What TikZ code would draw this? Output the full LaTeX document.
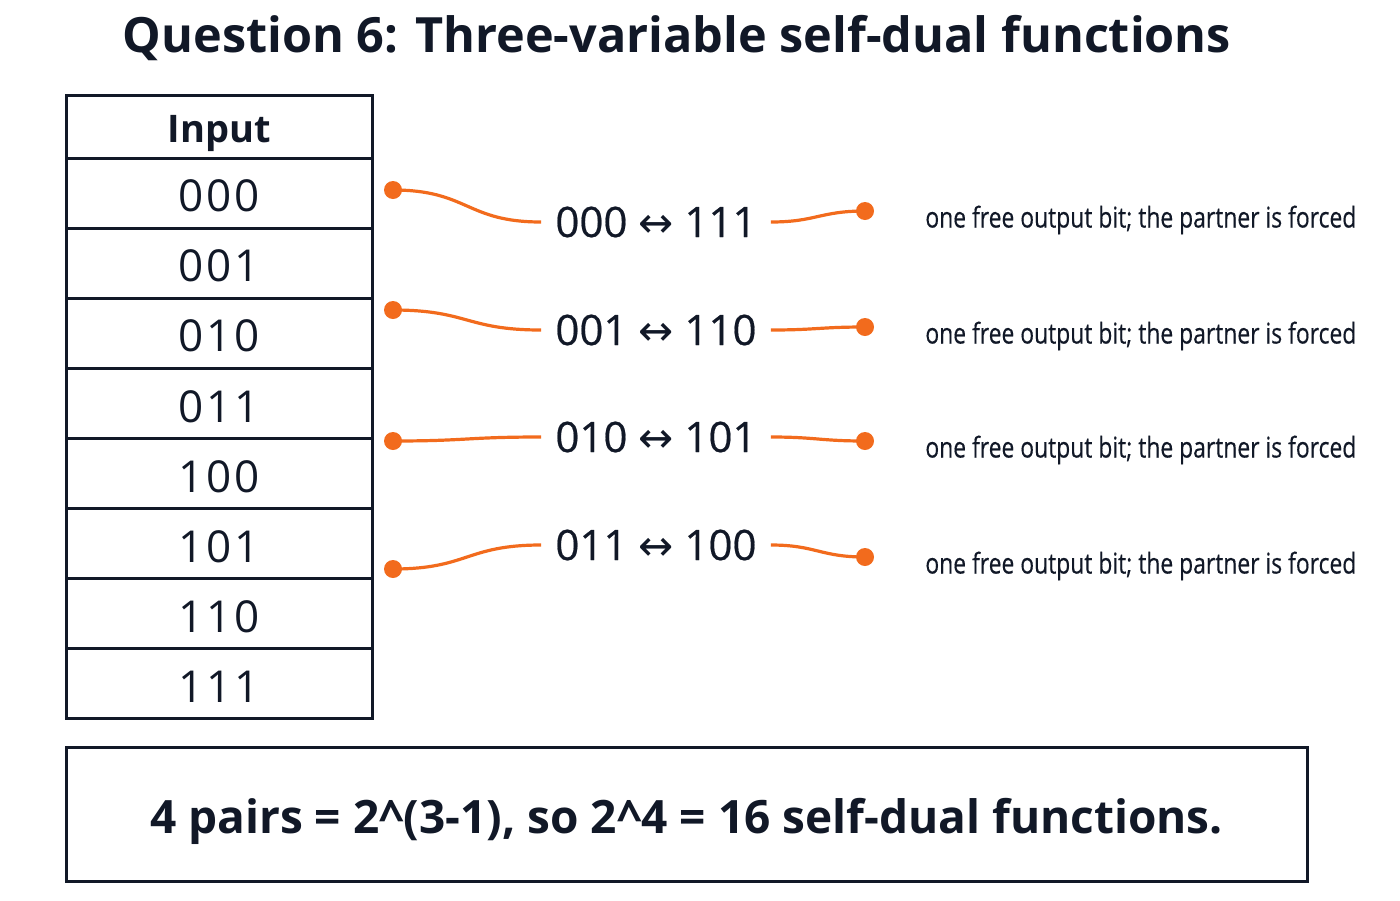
\documentclass[tikz,border=0pt]{standalone}
\usepackage{fontspec}
\setmainfont{Open Sans}
\newfontfamily\arrowfont{DejaVu Sans}
\newfontfamily\narrowfont[FakeStretch=0.8, FakeBold=0.4]{Open Sans}
\usetikzlibrary{positioning}
\definecolor{ink}{HTML}{111827}
\definecolor{flame}{HTML}{F26B1D}

\begin{document}
\begin{tikzpicture}[x=0.5pt, y=-0.5pt,
    cell/.style={draw=ink, line width=1.5pt, minimum width=153pt, minimum height=35pt,
                 outer sep=0pt, inner sep=0pt, text height=18.7pt, text depth=0pt, text=ink,
                 font=\fontsize{22}{26}\selectfont\addfontfeature{LetterSpace=7}},
    dot/.style={circle, fill=flame, inner sep=0pt, minimum size=9pt},
    pair/.style={anchor=west, inner xsep=7pt, text=ink, font=\fontsize{21}{25}\selectfont\addfontfeature{FakeBold=0.5}},
    note/.style={anchor=west, inner sep=0pt, text=ink, font=\narrowfont\fontsize{14.3}{17}\selectfont},
    link/.style={draw=flame, line width=1.6pt}
]
\useasboundingbox (0,0) rectangle (1400,900);

\node[text=ink, font=\fontsize{24.3}{28}\selectfont\bfseries] (title) at (677,38)
    {Question 6: Three-variable self-dual functions};

\node[cell, minimum height=31.5pt, text height=16.2pt, anchor=north west,
      font=\fontsize{19}{22}\selectfont\bfseries] (head) at (66,95) {Input};
\foreach \b [count=\i] in {000,001,010,011,100,101,110,111}{
    \node[cell] (row\i) at (219,{158+70.1*\i-35.05}) {\b};
}

\foreach \a/\c/\ly/\py/\ry [count=\i] in {000/111/190/222/211, 001/110/310/330/327,
                                          010/101/441/437/441, 011/100/569/545/557}{
    \node[dot] (d\i) at (393,\ly) {};
    \node[pair] (p\i) at (541,\py) {\a\ {\arrowfont↔} \c};
    \node[dot] (o\i) at (865,\ry) {};
    \node[note] (n\i) at (925,\ry+9) {one free output bit; the partner is forced};
    \draw[link] (d\i.center) .. controls +(75,0) and +(-75,0) .. (p\i.west);
    \draw[link] (p\i.east) .. controls +(45,0) and +(-45,0) .. (o\i.center);
}

\node[draw=ink, line width=1.5pt, minimum width=620.5pt, minimum height=67pt,
      text height=19.5pt, text depth=0pt, text=ink,
      font=\fontsize{23}{28}\selectfont\bfseries] (sum) at (686.5,814)
    {4 pairs = 2\^{}(3-1), so 2\^{}4 = 16 self-dual functions.};

\end{tikzpicture}
\end{document}
